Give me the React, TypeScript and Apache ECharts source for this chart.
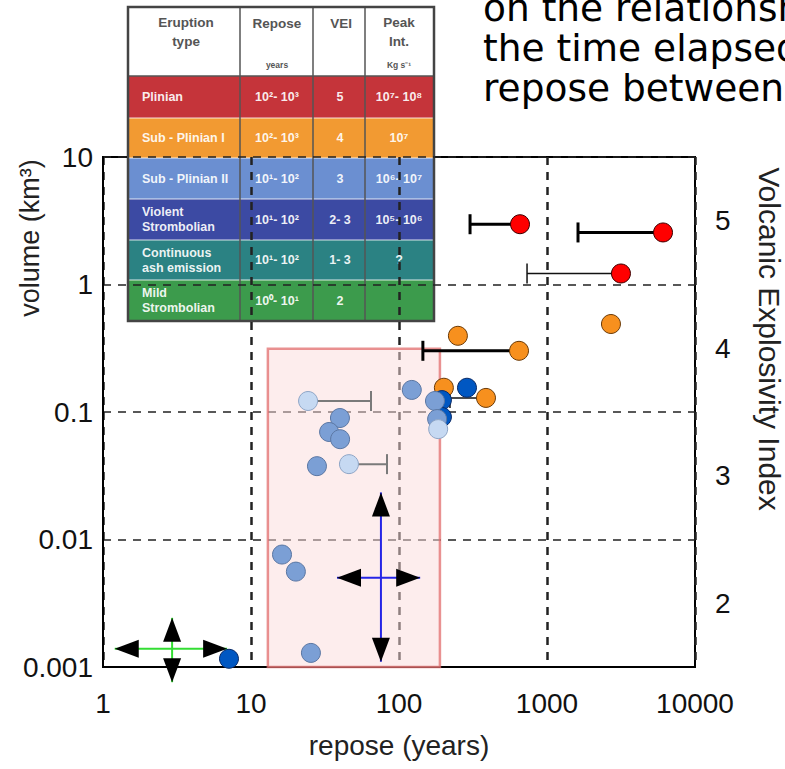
import React, { useEffect, useRef } from "react";
import * as echarts from "echarts";

// ---------- data ----------
const xTickLabels = ["1", "10", "100", "1000", "10000"];
const yTickLabels = ["0.001", "0.01", "0.1", "1", "10"];
const veiLabels = [2, 3, 4, 5];

// [repose (years), volume (km3)]
const plinian = [[657, 2.97], [6080, 2.56], [3160, 1.22]];
const subPlinianI = [[2705, 0.49], [250, 0.396], [647, 0.302], [201, 0.155], [387, 0.129]];
const violentStrombolian = [[195, 0.124], [195, 0.0914], [288, 0.155], [7.1, 0.00116]];
const subPlinianII = [
  [122, 0.149], [175, 0.122], [181, 0.088], [39.9, 0.0897], [33.7, 0.0697],
  [40, 0.0612], [27.9, 0.0376], [16.2, 0.00762], [20.1, 0.0056], [25.4, 0.00129],
];
const subPlinianIILight = [[24.3, 0.122], [45.9, 0.039], [184, 0.0734]];

// error bars: [repose of point, volume, repose at bar end]
const barsThick = [[657, 2.97, 302], [6080, 2.56, 1620], [647, 0.302, 145]];
const barsThin = [[3160, 1.22, 733], [387, 0.129, 221]];
const barsGray = [[24.3, 0.122, 64.7], [45.9, 0.039, 83]];

// shaded zone: [repose from, volume from, repose to, volume to]
const pinkZone = [13.0, 0.001, 189, 0.313];

// double-headed arrows: [x1, y1, x2, y2]
const blueArrows = [[38.1, 0.00502, 139, 0.00502], [75.5, 0.0234, 75.5, 0.0011]];
const greenArrows = [[1.2, 0.00139, 6.9, 0.00139], [2.93, 0.00243, 2.93, 0.00076]];

// table
const eruptionTypes = ["Plinian", "Sub - Plinian I", "Sub - Plinian II", "Violent\nStrombolian", "Continuous\nash emission", "Mild\nStrombolian"];
const reposeRanges = ["10²- 10³", "10²- 10³", "10¹- 10²", "10¹- 10²", "10¹- 10²", "10⁰- 10¹"];
const veiRanges = ["5", "4", "3", "2- 3", "1- 3", "2"];
const peakIntensities = ["10⁷- 10⁸", "10⁷", "10⁶- 10⁷", "10⁵- 10⁶", "?", ""];

const topTextLines = ["on the relationship", "the time elapsed", "repose between"];

// ---------- styles ----------
const rowColors = ["#c5343a", "#f29a32", "#6b8fd1", "#3c4aa3", "#2b8283", "#3c9b4c"];
const FONT = "Liberation Sans, Arial, sans-serif";

function buildTable() {
  const colX = [128, 240, 313, 365, 434];
  const rowY = [7, 76, 118, 158, 199, 240, 280, 321];
  const els: any[] = [];
  els.push({ type: "rect", shape: { x: colX[0], y: rowY[0], width: colX[4] - colX[0], height: rowY[1] - rowY[0] }, style: { fill: "#fff" } });
  for (let i = 0; i < eruptionTypes.length; i++) {
    els.push({ type: "rect", shape: { x: colX[0], y: rowY[i + 1], width: colX[4] - colX[0], height: rowY[i + 2] - rowY[i + 1] }, style: { fill: rowColors[i] } });
  }
  for (let i = 2; i < rowY.length - 1; i++) {
    els.push({ type: "line", shape: { x1: colX[0], y1: rowY[i], x2: colX[4], y2: rowY[i] }, style: { stroke: "rgba(255,255,255,0.55)", lineWidth: 1.5 } });
  }
  els.push({ type: "line", shape: { x1: colX[0], y1: rowY[1], x2: colX[4], y2: rowY[1] }, style: { stroke: "#555", lineWidth: 1.5 } });
  for (let c = 1; c < 4; c++) {
    els.push({ type: "line", shape: { x1: colX[c], y1: rowY[0], x2: colX[c], y2: rowY[7] }, style: { stroke: "#555", lineWidth: 1.5 } });
  }
  els.push({ type: "rect", shape: { x: colX[0], y: rowY[0], width: colX[4] - colX[0], height: rowY[7] - rowY[0] }, style: { fill: "none", stroke: "#444", lineWidth: 2.5 } });

  const hdr = { fill: "#555", fontFamily: FONT, fontWeight: "bold", fontSize: 13.5, align: "center", verticalAlign: "middle", lineHeight: 19 } as any;
  const small = { fill: "#555", fontFamily: FONT, fontWeight: "bold", fontSize: 8.5, align: "center", verticalAlign: "middle" } as any;
  els.push({ type: "text", x: 186, y: 32, style: { ...hdr, text: "Eruption\ntype" } });
  els.push({ type: "text", x: 277, y: 23, style: { ...hdr, text: "Repose" } });
  els.push({ type: "text", x: 277, y: 65, style: { ...small, text: "years" } });
  els.push({ type: "text", x: 341, y: 23, style: { ...hdr, text: "VEI" } });
  els.push({ type: "text", x: 399, y: 32, style: { ...hdr, text: "Peak\nInt." } });
  els.push({ type: "text", x: 399, y: 65, style: { ...small, text: "Kg s⁻¹" } });

  const cell = { fill: "rgba(255,255,255,0.92)", fontFamily: FONT, fontWeight: "bold", fontSize: 12.5, verticalAlign: "middle", lineHeight: 15 } as any;
  for (let i = 0; i < eruptionTypes.length; i++) {
    const cy = (rowY[i + 1] + rowY[i + 2]) / 2;
    els.push({ type: "text", x: 142, y: cy, style: { ...cell, align: "left", text: eruptionTypes[i] } });
    els.push({ type: "text", x: 277, y: cy, style: { ...cell, align: "center", text: reposeRanges[i] } });
    els.push({ type: "text", x: 340, y: cy, style: { ...cell, align: "center", text: veiRanges[i] } });
    els.push({ type: "text", x: 399, y: cy, style: { ...cell, align: "center", text: peakIntensities[i] } });
  }
  return { type: "group", z: 100, children: els };
}

function errorBarSeries(data: number[][], color: string, width: number) {
  return {
    type: "custom",
    coordinateSystem: "cartesian2d",
    data,
    z: 3,
    silent: true,
    clip: false,
    renderItem: (params: any, api: any) => {
      const p1 = api.coord([api.value(0), api.value(1)]);
      const p2 = api.coord([api.value(2), api.value(1)]);
      return {
        type: "group",
        children: [
          { type: "line", shape: { x1: p1[0], y1: p1[1], x2: p2[0], y2: p2[1] }, style: { stroke: color, lineWidth: width } },
          { type: "line", shape: { x1: p2[0], y1: p2[1] - 10, x2: p2[0], y2: p2[1] + 10 }, style: { stroke: color, lineWidth: width } },
        ],
      };
    },
  };
}

function arrowSeries(data: number[][], color: string) {
  return {
    type: "custom",
    coordinateSystem: "cartesian2d",
    data,
    z: 4,
    silent: true,
    clip: false,
    renderItem: (params: any, api: any) => {
      const a = api.coord([api.value(0), api.value(1)]);
      const b = api.coord([api.value(2), api.value(3)]);
      const dx = b[0] - a[0], dy = b[1] - a[1];
      const len = Math.hypot(dx, dy) || 1;
      const ux = dx / len, uy = dy / len;
      const L = 24, W = 9;
      const head = (tip: number[], d: number[]) => {
        const bx = tip[0] - d[0] * L, by = tip[1] - d[1] * L;
        return {
          type: "polygon",
          shape: { points: [[tip[0], tip[1]], [bx - d[1] * W, by + d[0] * W], [bx + d[1] * W, by - d[0] * W]] },
          style: { fill: "#000" },
        };
      };
      return {
        type: "group",
        children: [
          { type: "line", shape: { x1: a[0], y1: a[1], x2: b[0], y2: b[1] }, style: { stroke: color, lineWidth: 2 } },
          head(a, [-ux, -uy]),
          head(b, [ux, uy]),
        ],
      };
    },
  };
}

function scatter(name: string, data: number[][], fill: string, border: string) {
  return {
    name,
    type: "scatter",
    data,
    symbol: "circle",
    symbolSize: 19,
    z: 5,
    itemStyle: { color: fill, borderColor: border, borderWidth: 1, opacity: 1 },
  };
}

export default function App() {
  const ref = useRef<HTMLDivElement>(null);
  useEffect(() => {
    if (!ref.current) return;
    const chart = echarts.init(ref.current, undefined, { renderer: "svg" });
    const fmtLog = (labels: string[], base: number) => (v: number) => {
      const e = Math.round(Math.log10(v)) - base;
      return labels[e] ?? "";
    };
    chart.setOption({
      animation: false,
      backgroundColor: "#fff",
      grid: { left: 103, right: 90, top: 157, bottom: 102, show: true, borderColor: "#000", borderWidth: 2 },
      xAxis: {
        type: "log",
        logBase: 10,
        min: 1,
        max: 10000,
        name: "repose (years)",
        nameLocation: "middle",
        nameGap: 64,
        nameTextStyle: { fontSize: 28, color: "#222", fontFamily: FONT },
        axisLine: { show: true, lineStyle: { color: "#000", width: 2 } },
        axisTick: { show: false },
        axisLabel: { fontSize: 28, color: "#111", fontFamily: FONT, margin: 22, formatter: fmtLog(xTickLabels, 0) },
        splitLine: { show: true, lineStyle: { color: "#222", width: 2.5, type: [8, 7] } },
      },
      yAxis: [
        {
          type: "log",
          logBase: 10,
          min: 0.001,
          max: 10,
          axisLine: { show: true, lineStyle: { color: "#000", width: 2 } },
          axisTick: { show: false },
          axisLabel: { fontSize: 28, color: "#111", fontFamily: FONT, margin: 10, formatter: fmtLog(yTickLabels, -3) },
          splitLine: { show: true, lineStyle: { color: "#222", width: 1.5, type: [8, 7] } },
        },
        {
          type: "value",
          position: "right",
          min: 1.5,
          max: 5.5,
          axisLine: { show: false },
          axisTick: { show: false },
          splitLine: { show: false },
          axisLabel: { customValues: veiLabels, showMinLabel: true, showMaxLabel: true, hideOverlap: false, fontSize: 28, color: "#111", fontFamily: FONT, margin: 20 },
        },
      ],
      graphic: [
        ...topTextLines.map((t, i) => ({
          type: "text", x: 483, y: 8 + i * 40,
          style: { text: t, fontFamily: "DejaVu Sans, Verdana, sans-serif", fontSize: 37.5, fill: "#000", verticalAlign: "middle", align: "left" },
        })),
        {
          type: "text", x: 30, y: 238, rotation: Math.PI / 2,
          style: { text: "volume (km³)", fontFamily: FONT, fontSize: 27, fill: "#222", align: "center", verticalAlign: "middle" },
        },
        {
          type: "text", x: 769, y: 339, rotation: -Math.PI / 2,
          style: { text: "Volcanic Explosivity Index", fontFamily: FONT, fontSize: 30, fill: "#222", align: "center", verticalAlign: "middle" },
        },
        buildTable(),
      ],
      series: [
        {
          type: "custom",
          coordinateSystem: "cartesian2d",
          data: [pinkZone],
          z: 2,
          silent: true,
          renderItem: (params: any, api: any) => {
            const p0 = api.coord([api.value(0), api.value(1)]);
            const p1 = api.coord([api.value(2), api.value(3)]);
            return {
              type: "rect",
              shape: { x: Math.min(p0[0], p1[0]), y: Math.min(p0[1], p1[1]), width: Math.abs(p1[0] - p0[0]), height: Math.abs(p1[1] - p0[1]) },
              style: { fill: "rgba(251,219,219,0.5)", stroke: "rgba(226,110,110,0.75)", lineWidth: 2.5 },
            };
          },
        },
        errorBarSeries(barsThick, "#000", 3),
        errorBarSeries(barsThin, "#111", 1.5),
        errorBarSeries(barsGray, "#7a7a7a", 2),
        arrowSeries(blueArrows, "#2525e6"),
        arrowSeries(greenArrows, "#33dd33"),
        scatter("Plinian", plinian, "#ff0000", "#3a0000"),
        scatter("Sub-Plinian I", subPlinianI, "#f7901e", "#6a3a08"),
        scatter("Violent Strombolian", violentStrombolian, "#0057c2", "#0a2a66"),
        scatter("Sub-Plinian II", subPlinianII, "#7b9fd5", "#5b77a3"),
        scatter("Sub-Plinian II (light)", subPlinianIILight, "#c6d9f2", "#8ea5c6"),
      ],
    });
    return () => chart.dispose();
  }, []);
  return <div ref={ref} style={{ position: "absolute", left: 0, top: 0, width: 785, height: 769 }} />;
}
